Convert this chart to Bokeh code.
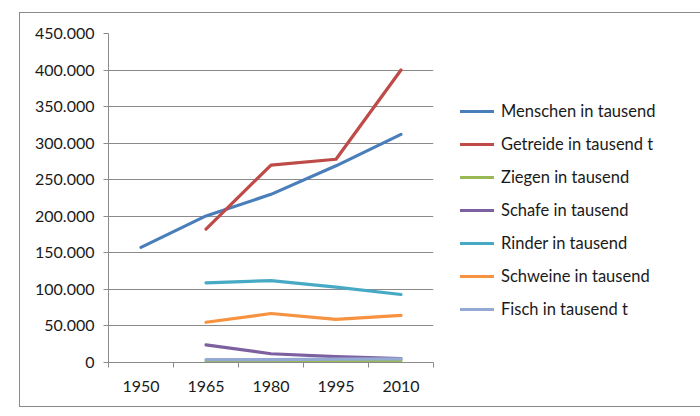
from bokeh.plotting import figure
from bokeh.models import Range1d, FixedTicker, Legend, LegendItem
from bokeh.embed import file_html
from bokeh.resources import INLINE

years = [1950, 1965, 1980, 1995, 2010]
menschen = [157500, 200500, 230000, 269000, 312000]
getreide = [None, 182500, 270000, 278000, 400000]
ziegen = [None, 1500, 1500, 2000, 2500]
schafe = [None, 24000, 12000, 8000, 5500]
rinder = [None, 109000, 112000, 103000, 93000]
schweine = [None, 55000, 67000, 59000, 64500]
fisch = [None, 4000, 4000, 4500, 5000]

series_names = ["Menschen in tausend", "Getreide in tausend t", "Ziegen in tausend",
                "Schafe in tausend", "Rinder in tausend", "Schweine in tausend",
                "Fisch in tausend t"]
series_values = [menschen, getreide, ziegen, schafe, rinder, schweine, fisch]
colors = ["#4A7EBB", "#BE4B48", "#98B954", "#7D60A0", "#46AAC5", "#F69240", "#94A9D3"]

y_ticks = list(range(0, 450001, 50000))
y_labels = {t: f"{t:,}".replace(",", ".") for t in y_ticks}
year_labels = {y: str(y) for y in years}

FONT = "Lato"
FS = "16px"

p = figure(width=660, height=393, output_backend="svg", toolbar_location=None,
           frame_width=325, frame_height=329,
           min_border_left=88, min_border_right=247, min_border_top=20, min_border_bottom=44,
           x_range=Range1d(1942.5, 2017.5), y_range=Range1d(0, 450000))
p.margin = (12, 0, 0, 19)
p.styles = {"border": "1px solid #8a8a8a", "width": "fit-content", "height": "fit-content"}
p.outline_line_color = None
p.background_fill_color = "white"
p.border_fill_color = "white"

p.xgrid.visible = False
p.ygrid.grid_line_color = "#8a8a8a"
p.ygrid.grid_line_width = 1
p.ygrid.ticker = FixedTicker(ticks=y_ticks)

xa = p.xaxis[0]
xa.ticker = FixedTicker(ticks=years, minor_ticks=[1942.5 + 15 * i for i in range(6)])
xa.major_label_overrides = year_labels
xa.major_tick_out = 0
xa.major_tick_in = 0
xa.minor_tick_out = 5
xa.minor_tick_in = 0
xa.minor_tick_line_color = "#8a8a8a"
xa.axis_line_color = "#8a8a8a"
xa.major_label_text_font = FONT
xa.major_label_text_font_size = FS
xa.major_label_text_color = "#1a1a1a"
xa.major_label_standoff = 13

ya = p.yaxis[0]
ya.ticker = FixedTicker(ticks=y_ticks)
ya.major_label_overrides = y_labels
ya.major_tick_out = 5
ya.major_tick_in = 0
ya.minor_tick_out = 0
ya.minor_tick_in = 0
ya.major_tick_line_color = "#8a8a8a"
ya.axis_line_color = "#8a8a8a"
ya.major_label_text_font = FONT
ya.major_label_text_font_size = FS
ya.major_label_text_color = "#1a1a1a"
ya.major_label_standoff = 9

items = []
for name, vals, col in zip(series_names, series_values, colors):
    xs = [y for y, v in zip(years, vals) if v is not None]
    ys = [v for v in vals if v is not None]
    r = p.line(xs, ys, line_color=col, line_width=3.2, line_join="round", line_cap="round")
    items.append(LegendItem(label=name, renderers=[r]))

legend = Legend(items=items, location=(27, 43), orientation="vertical")
legend.border_line_color = None
legend.background_fill_alpha = 0
legend.margin = 0
legend.padding = 0
legend.glyph_width = 34
legend.glyph_height = 20
legend.label_height = 20
legend.spacing = 13
legend.label_standoff = 7
legend.label_text_font = FONT
legend.label_text_font_size = "16.5px"
legend.label_text_color = "#1a1a1a"
p.add_layout(legend, "right")

open("out.html", "w").write(file_html(p, INLINE))
